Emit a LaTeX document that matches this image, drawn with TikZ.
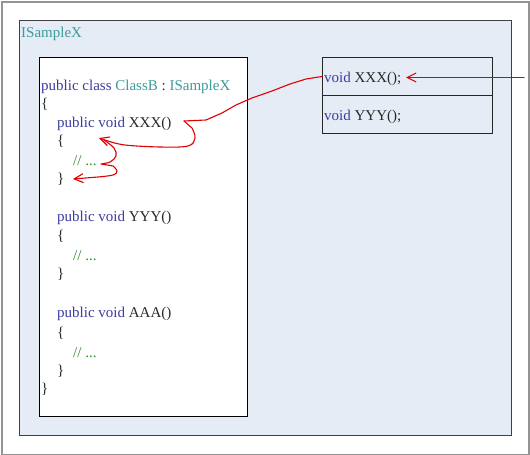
\documentclass[tikz,border=0pt]{standalone}
\usepackage{fontspec}
\setmainfont{Liberation Serif}
\usetikzlibrary{arrows.meta}
\definecolor{kw}{HTML}{3C3CA0}
\definecolor{tl}{HTML}{3C9C9C}
\definecolor{cm}{HTML}{2E8B2E}
\definecolor{tx}{HTML}{2A2A2A}
\definecolor{panelbg}{HTML}{E6ECF6}
\definecolor{penred}{HTML}{E00000}
\begin{document}
\begin{tikzpicture}[x=1pt,y=-1pt,
  code/.style={anchor=base west, inner sep=0, text=tx, font=\fontsize{15}{16}\selectfont},
  box/.style={anchor=north west, inner sep=0, draw=#1, line width=1pt},
  pen/.style={draw=penred, line width=1.1pt, line join=round, line cap=round},
  tip/.style={-{Straight Barb[length=9pt,width=9pt,line width=1.1pt]}}]
\useasboundingbox (0,0) rectangle (530,455);
% outer frame
\node[box=gray!85, fill=white, line width=2pt, minimum width=527pt, minimum height=453pt] (frame) at (1,1) {};
% interface panel
\node[box=black!75, fill=panelbg, minimum width=492pt, minimum height=415pt] (panel) at (19,20) {};
\node[code, text=tl] (ilabel) at (21,37.5) {ISampleX};
% class box
\node[box=black, fill=white, minimum width=208pt, minimum height=359pt] (cls) at (39,57) {};
% interface member box
\node[box=black!85, minimum width=170pt, minimum height=38pt] (rowx) at (322,57) {};
\node[box=black!85, minimum width=170pt, minimum height=38pt] (rowy) at (322,95) {};
\node[code] (ixxx) at (324,82) {\textcolor{kw}{void} XXX();};
\node[code] (iyyy) at (324,120) {\textcolor{kw}{void} YYY();};
% class code
\node[code] (l0) at (41,90) {\textcolor{kw}{public class} \textcolor{tl}{ClassB} : \textcolor{tl}{ISampleX}};
\node[code] (l1) at (41,108) {\{};
\node[code] (l2) at (57,127) {\textcolor{kw}{public void} XXX()};
\node[code] (l3) at (57,145) {\{};
\node[code, text=cm] (l4) at (73,165) {// ...};
\node[code] (l5) at (57,183) {\}};
\node[code] (l7) at (57,221) {\textcolor{kw}{public void} YYY()};
\node[code] (l8) at (57,240) {\{};
\node[code, text=cm] (l9) at (73,260) {// ...};
\node[code] (l10) at (57,278) {\}};
\node[code] (l12) at (57,317) {\textcolor{kw}{public void} AAA()};
\node[code] (l13) at (57,337) {\{};
\node[code, text=cm] (l14) at (73,357) {// ...};
\node[code] (l15) at (57,375) {\}};
\node[code] (l16) at (41,393) {\}};
% red hand-drawn arrows
\coordinate (caller) at (524,77.5);
\coordinate (callend) at (406,77.5);
\draw[pen,tip,line width=1.4pt] (caller) -- (callend);
\coordinate (impl) at (rowx.west);
\coordinate (kink) at (184,121);
\coordinate (open) at (99,138);
\draw[pen] (impl) -- (306,79) -- (290,84) -- (272,91) -- (252,98) -- (236,105) -- (222,113) -- (206,120) -- (kink);
\draw[pen,tip] (kink) -- (192,128) plot[smooth,tension=0.6] coordinates {(192,128) (195,138) (188,146) (160,147) (125,145) (108,141)} -- (open);
\coordinate (close) at (73,179);
\draw[pen,tip] (104,140) plot[smooth,tension=0.6] coordinates {(104,140) (114,148) (116,156) (110,162) (101,164)} -- (113,166) plot[smooth,tension=0.6] coordinates {(113,166) (117,171) (113,175) (98,177)} -- (close);
\end{tikzpicture}
\end{document}
